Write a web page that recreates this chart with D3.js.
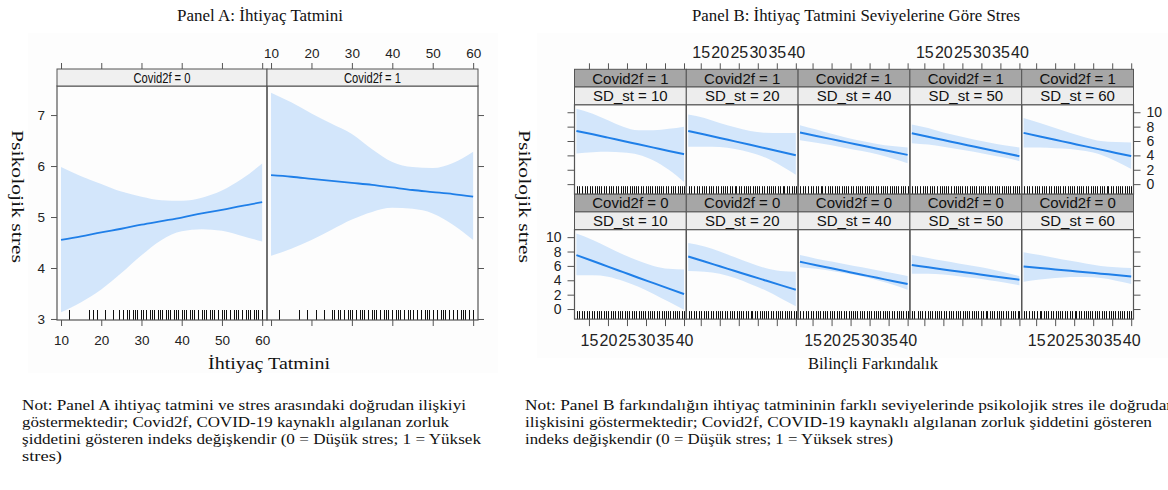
<!DOCTYPE html>
<html>
<head>
<meta charset="utf-8">
<script src="https://cdn.jsdelivr.net/npm/d3@7"></script>
<style>
  body { margin: 0; background: #fff; }
</style>
</head>
<body>
<div id="chart"></div>
<script>

// ---- Panel A data: stress by need satisfaction, per Covid2f level
const covidA = ["0", "1"];
const needX = [10, 15, 20, 25, 30, 35, 40, 45, 50, 55, 60];
const fitA0 = [4.55, 4.62, 4.70, 4.77, 4.85, 4.92, 4.99, 5.07, 5.14, 5.22, 5.29];
const uppA0 = [5.98, 5.80, 5.65, 5.50, 5.40, 5.33, 5.32, 5.38, 5.52, 5.75, 6.05];
const lowA0 = [3.13, 3.33, 3.58, 3.90, 4.25, 4.55, 4.72, 4.76, 4.73, 4.63, 4.52];
const fitA1 = [5.82, 5.79, 5.75, 5.71, 5.67, 5.63, 5.58, 5.53, 5.49, 5.45, 5.40];
const uppA1 = [7.44, 7.25, 7.03, 6.83, 6.63, 6.33, 6.08, 5.98, 5.96, 6.06, 6.28];
const lowA1 = [4.24, 4.38, 4.55, 4.75, 4.95, 5.10, 5.18, 5.16, 5.07, 4.85, 4.55];
const rugA0 = [12, 17, 18, 19, 21, 23, 24.5, 25.5, 26.5, 27, 28, 28.5, 29, 30, 30.5, 31, 32, 32.5, 33, 34, 34.5, 35, 36, 36.5, 37, 38, 38.5, 39, 40, 40.5, 41, 42, 42.5, 43, 44, 45, 45.5, 46, 47, 47.5, 48, 49, 50, 50.5, 51, 52, 53, 53.5, 54, 55, 56, 56.5, 57, 58, 58.5, 59, 60];
const rugA1 = [12, 17, 19, 21, 23, 25, 25.5, 26.5, 27, 28, 29, 29.5, 30, 31, 32, 32.5, 33, 34, 35, 35.5, 36, 37, 38, 38.5, 39, 40, 41, 41.5, 42, 43, 44, 44.5, 45, 46, 47, 48, 48.5, 49, 50, 51, 52, 52.5, 53, 54, 55, 56, 57, 57.5, 58, 59, 60];
const xTicksA = [10, 20, 30, 40, 50, 60];
const yTicksA = [3, 4, 5, 6, 7];

// ---- Panel B data: stress by awareness, per need satisfaction level (SD_st)
const sdLevels = [10, 20, 40, 50, 60];
const awareX = [11.7, 16, 20, 24, 28, 32, 36, 40];
// Covid2f = 1 (top row)
const fitB1 = [
    [7.40, 6.93, 6.47, 6.00, 5.54, 5.08, 4.62, 4.17],
    [7.40, 6.91, 6.43, 5.95, 5.47, 4.99, 4.51, 4.03],
    [7.17, 6.70, 6.26, 5.81, 5.37, 4.93, 4.50, 4.07],
    [7.08, 6.59, 6.14, 5.68, 5.23, 4.78, 4.33, 3.89],
    [7.13, 6.63, 6.17, 5.71, 5.25, 4.80, 4.34, 3.89]];
const uppB1 = [
    [10.5, 9.8, 8.9, 8.0, 7.5, 7.5, 7.7, 8.0],
    [9.7, 9.2, 8.5, 7.9, 7.4, 7.15, 7.1, 7.1],
    [8.2, 7.6, 7.0, 6.45, 6.0, 5.6, 5.3, 5.1],
    [8.3, 7.8, 7.2, 6.7, 6.2, 5.8, 5.4, 5.1],
    [9.2, 8.5, 7.8, 7.1, 6.5, 6.0, 5.85, 5.8]];
const lowB1 = [
    [4.25, 4.45, 4.5, 4.4, 4.1, 3.3, 2.0, 0.3],
    [5.2, 5.2, 5.15, 4.9, 4.4, 3.7, 2.6, 1.3],
    [6.1, 5.75, 5.4, 5.0, 4.6, 4.15, 3.55, 2.9],
    [5.7, 5.5, 5.2, 4.85, 4.5, 4.1, 3.7, 3.2],
    [5.1, 5.1, 5.0, 4.9, 4.6, 4.1, 3.2, 2.1]];
// Covid2f = 0 (bottom row)
const fitB0 = [
    [7.50, 6.68, 5.90, 5.13, 4.36, 3.60, 2.84, 2.08],
    [7.31, 6.61, 5.95, 5.29, 4.63, 3.98, 3.33, 2.68],
    [6.57, 6.10, 5.66, 5.22, 4.78, 4.34, 3.91, 3.47],
    [6.11, 5.80, 5.51, 5.22, 4.93, 4.64, 4.36, 4.07],
    [5.92, 5.71, 5.51, 5.31, 5.12, 4.92, 4.73, 4.53]];
const uppB0 = [
    [10.5, 9.6, 8.6, 7.6, 6.7, 6.0, 5.6, 5.5],
    [9.2, 8.7, 8.0, 7.2, 6.4, 5.7, 5.3, 5.2],
    [7.5, 7.0, 6.6, 6.2, 5.8, 5.4, 5.0, 4.6],
    [7.5, 7.1, 6.7, 6.35, 6.0, 5.6, 5.1, 4.6],
    [7.9, 7.5, 7.1, 6.7, 6.35, 6.0, 5.8, 5.7]];
const lowB0 = [
    [4.7, 4.7, 4.5, 3.9, 3.1, 2.1, 1.0, -0.1],
    [5.3, 5.2, 4.9, 4.3, 3.5, 2.6, 1.5, 0.4],
    [5.8, 5.6, 5.3, 4.95, 4.55, 4.0, 3.4, 2.7],
    [4.9, 4.9, 4.8, 4.55, 4.3, 4.0, 3.7, 3.3],
    [3.8, 4.1, 4.3, 4.45, 4.45, 4.3, 3.95, 3.5]];
const rugB1 = [11.8, 12.5, 13.1, 13.9, 14.6, 15.2, 15.8, 16.5, 17.1, 17.6, 18.3, 19.0, 19.6, 20.2, 20.8, 21.3, 22.0, 22.7, 23.3, 23.9, 24.4, 25.0, 25.7, 26.3, 26.9, 27.4, 28.0, 28.7, 29.3, 29.9, 30.4, 31.0, 31.7, 32.3, 32.9, 33.5, 34.0, 34.6, 35.3, 35.9, 36.5, 37.0, 37.6, 38.3, 38.9, 39.4, 40.0];
const rugB0 = [11.8, 12.4, 13.2, 13.8, 14.5, 15.1, 15.9, 16.4, 17.0, 17.7, 18.2, 18.9, 19.5, 20.1, 20.7, 21.4, 21.9, 22.6, 23.2, 23.8, 24.5, 25.1, 25.6, 26.2, 26.8, 27.5, 28.1, 28.6, 29.2, 29.8, 30.5, 31.1, 31.6, 32.2, 32.8, 33.4, 34.1, 34.7, 35.2, 35.8, 36.4, 37.1, 37.7, 38.2, 38.8, 39.5, 40.0];
const xTicksB = [15, 20, 25, 30, 35, 40];
const yTicksB = [0, 2, 4, 6, 8, 10];

const bandColor = "#d3e6fb";
const lineColor = "#1f7fe8";
const frameColor = "#555";
const serif = "'Liberation Serif', 'DejaVu Serif', serif";
const sans = "'Liberation Sans', Arial, sans-serif";
const narrow = "'Liberation Sans Narrow', 'Liberation Sans', Arial, sans-serif";

const svg = d3.select("#chart")
    .append("svg")
    .attr("width", 1168)
    .attr("height", 490);

svg.append("rect").attr("width", 1168).attr("height", 490).attr("fill", "#fff");
// faint page backgrounds behind both figures
svg.append("rect").attr("x", 28).attr("y", 33).attr("width", 470).attr("height", 340).attr("fill", "#fdfdfd");
svg.append("rect").attr("x", 537).attr("y", 33).attr("width", 631).attr("height", 325).attr("fill", "#fdfdfd");

function styleAxis(g, family, size, showLabels) {
    g.attr("font-family", family).attr("font-size", size);
    g.select(".domain").remove();
    g.selectAll(".tick line").attr("stroke", frameColor);
    g.selectAll(".tick text").attr("fill", "#222");
    if (!showLabels) g.selectAll(".tick text").remove();
}

function serifText(x, y, str, len, anchor, rotate, size) {
    const t = svg.append("text")
        .attr("font-family", serif)
        .attr("font-size", size || 16)
        .attr("fill", "#111")
        .attr("text-anchor", anchor || "start")
        .attr("textLength", len)
        .attr("lengthAdjust", "spacingAndGlyphs")
        .text(str);
    if (rotate) t.attr("transform", `translate(${x},${y}) rotate(90)`);
    else t.attr("x", x).attr("y", y);
    return t;
}

function drawFacet(g, x, y, fit, upp, low, xs, rug, rugLen, stroke) {
    const pts = xs.map((v, i) => ({ x: v, f: fit[i], u: upp[i], l: low[i] }));
    g.append("path")
        .attr("d", d3.area().curve(d3.curveMonotoneX)
            .x(d => x(d.x)).y0(d => y(d.l)).y1(d => y(d.u))(pts))
        .attr("fill", bandColor);
    g.append("path")
        .attr("d", d3.line().curve(d3.curveMonotoneX)
            .x(d => x(d.x)).y(d => y(d.f))(pts))
        .attr("fill", "none")
        .attr("stroke", lineColor)
        .attr("stroke-width", stroke);
    const y0 = y.range()[0];
    g.append("g").selectAll("line")
        .data(rug)
        .enter().append("line")
        .attr("x1", d => Math.round(x(d)) + 0.5).attr("x2", d => Math.round(x(d)) + 0.5)
        .attr("y1", y0).attr("y2", y0 - rugLen)
        .attr("stroke", "#111")
        .attr("stroke-width", 1);
}

function strip(x, y, w, h, fill, label, font, size, len) {
    svg.append("rect")
        .attr("x", x).attr("y", y).attr("width", w).attr("height", h)
        .attr("fill", fill).attr("stroke", frameColor).attr("stroke-width", 1);
    const t = svg.append("text")
        .attr("x", x + w / 2).attr("y", y + h / 2 + size * 0.36)
        .attr("text-anchor", "middle")
        .attr("font-family", font).attr("font-size", size)
        .attr("fill", "#111")
        .text(label);
    if (len) t.attr("textLength", len).attr("lengthAdjust", "spacingAndGlyphs");
}

// ================= Panel A =================
const aTop = 69, aStripH = 17, aBottom = 320;
const aCols = [[57, 267], [267, 478]];
const yA = d3.scaleLinear().domain([2.98, 7.57]).range([aBottom, aTop + aStripH]);
const seriesA = [[fitA0, uppA0, lowA0, rugA0], [fitA1, uppA1, lowA1, rugA1]];

covidA.forEach((lev, i) => {
    const [x0, x1] = aCols[i];
    const xA = d3.scaleLinear().domain([9.0, 61.2]).range([x0, x1]);
    const g = svg.append("g");
    const s = seriesA[i];
    drawFacet(g, xA, yA, s[0], s[1], s[2], needX, s[3], 10, 1.8);

    svg.append("rect")
        .attr("x", x0).attr("y", aTop + aStripH).attr("width", x1 - x0).attr("height", aBottom - aTop - aStripH)
        .attr("fill", "none").attr("stroke", frameColor).attr("stroke-width", 1.2);
    strip(x0, aTop, x1 - x0, aStripH, "#f0f0f0", `Covid2f = ${lev}`, narrow, 14.5, 57);

    svg.append("g")
        .attr("transform", `translate(0,${aBottom})`)
        .call(d3.axisBottom(xA).tickValues(xTicksA).tickSize(6).tickPadding(9))
        .call(g => styleAxis(g, narrow, 13.5, i === 0));
    svg.append("g")
        .attr("transform", `translate(0,${aTop})`)
        .call(d3.axisTop(xA).tickValues(xTicksA).tickSize(6).tickPadding(5))
        .call(g => styleAxis(g, narrow, 13.5, i === 1));
});

svg.append("g")
    .attr("transform", `translate(${aCols[0][0]},0)`)
    .call(d3.axisLeft(yA).tickValues(yTicksA).tickFormat(d3.format("d")).tickSize(6).tickPadding(6))
    .call(g => styleAxis(g, narrow, 13.5, true));
svg.append("g")
    .attr("transform", `translate(${aCols[1][1]},0)`)
    .call(d3.axisRight(yA).tickValues(yTicksA).tickSize(6))
    .call(g => styleAxis(g, narrow, 13.5, false));

serifText(260, 21, "Panel A: İhtiyaç Tatmini", 166, "middle");
serifText(269, 369, "İhtiyaç Tatmini", 122, "middle");
serifText(12, 196.5, "Psikolojik stres", 133, "middle", true);

// ================= Panel B =================
const bLeft = 574.5, bColW = 111.8, bTop = 69.3, bStripH = 17.7, bPanelH = 89.5;
const rowsB = [
    { lev: "1", fit: fitB1, upp: uppB1, low: lowB1, rug: rugB1 },
    { lev: "0", fit: fitB0, upp: uppB0, low: lowB0, rug: rugB0 }];
const bRight = bLeft + bColW * sdLevels.length;

rowsB.forEach((row, r) => {
    const rTop = bTop + r * (2 * bStripH + bPanelH);
    const pTop = rTop + 2 * bStripH, pBot = pTop + bPanelH;
    const yB = d3.scaleLinear().domain([-1.4, 11.05]).range([pBot, pTop]);

    sdLevels.forEach((sd, c) => {
        const x0 = bLeft + c * bColW;
        const xB = d3.scaleLinear().domain([11.2, 40.6]).range([x0, x0 + bColW]);
        const g = svg.append("g");
        drawFacet(g, xB, yB, row.fit[c], row.upp[c], row.low[c], awareX, row.rug, 8, 2);
        svg.append("rect")
            .attr("x", x0).attr("y", pTop).attr("width", bColW).attr("height", bPanelH)
            .attr("fill", "none").attr("stroke", frameColor).attr("stroke-width", 1.2);
        strip(x0, rTop, bColW, bStripH, "#a6a6a6", `Covid2f = ${row.lev}`, sans, 15);
        strip(x0, rTop + bStripH, bColW, bStripH, "#ededed", `SD_st = ${sd}`, sans, 15);

        if (r === 0) {
            svg.append("g")
                .attr("transform", `translate(0,${rTop})`)
                .call(d3.axisTop(xB).tickValues(xTicksB).tickSize(6).tickPadding(5))
                .call(g => styleAxis(g, sans, 16, c % 2 === 1));
        } else {
            svg.append("g")
                .attr("transform", `translate(0,${pBot})`)
                .call(d3.axisBottom(xB).tickValues(xTicksB).tickSize(7).tickPadding(9))
                .call(g => styleAxis(g, sans, 16, c % 2 === 0));
        }
    });

    svg.append("g")
        .attr("transform", `translate(${bLeft},0)`)
        .call(d3.axisLeft(yB).tickValues(yTicksB).tickSize(7).tickPadding(6))
        .call(g => styleAxis(g, sans, 14, r === 1));
    svg.append("g")
        .attr("transform", `translate(${bRight},0)`)
        .call(d3.axisRight(yB).tickValues(yTicksB).tickSize(7).tickPadding(6))
        .call(g => styleAxis(g, sans, 14, r === 0));
});

serifText(856, 21, "Panel B: İhtiyaç Tatmini Seviyelerine Göre Stres", 328, "middle");
serifText(873, 369, "Bilinçli Farkındalık", 130, "middle", false, 17);
serifText(519, 196.5, "Psikolojik stres", 133, "middle", true);

// ================= Notes =================
const noteA = [
    ["Not: Panel A ihtiyaç tatmini ve stres arasındaki doğrudan ilişkiyi", 444],
    ["göstermektedir;  Covid2f, COVID-19 kaynaklı algılanan zorluk", 427],
    ["şiddetini gösteren indeks değişkendir  (0 = Düşük stres; 1 = Yüksek", 459],
    ["stres)", 40]];
const noteB = [
    ["Not: Panel B farkındalığın  ihtiyaç tatmininin farklı seviyelerinde  psikolojik stres ile doğrudan", 650],
    ["ilişkisini  göstermektedir;  Covid2f, COVID-19 kaynaklı algılanan zorluk şiddetini gösteren", 627],
    ["indeks değişkendir  (0 = Düşük stres; 1 = Yüksek stres)", 368]];
const noteY = [409.5, 426.5, 443.5, 460.5];

noteA.forEach((d, i) => serifText(22, noteY[i], d[0], d[1], "start", false, 14.5));
noteB.forEach((d, i) => serifText(525, noteY[i], d[0], d[1], "start", false, 14.5));

</script>
</body>
</html>
